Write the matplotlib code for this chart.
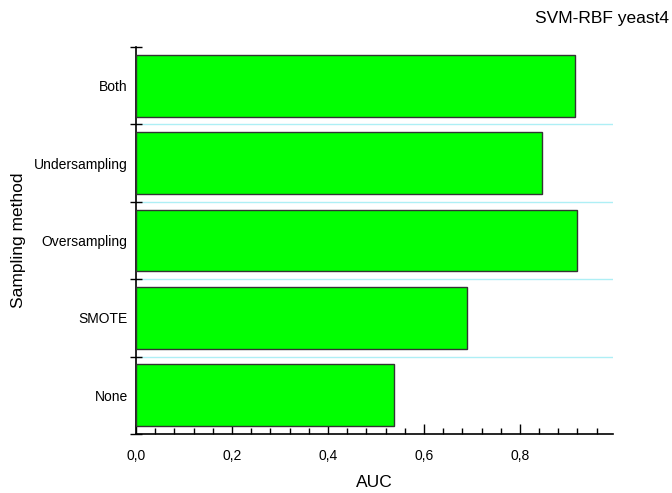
import matplotlib.pyplot as plt
from matplotlib.ticker import MultipleLocator, FixedLocator, FuncFormatter

plt.rcParams['font.family'] = ['Liberation Sans', 'DejaVu Sans']

methods = ["None", "SMOTE", "Oversampling", "Undersampling", "Both"]
auc = [0.5375, 0.690, 0.919, 0.846, 0.915]

fig = plt.figure(figsize=(6.72, 4.93), dpi=100)
ax = fig.add_axes([0.2024, 0.1197, 0.7098, 0.785])

pos = list(range(len(methods)))
ax.barh(pos, auc, height=0.8, color="#00FF00", edgecolor="#333333", linewidth=1.0, zorder=3)

# cyan separators between categories
for b in [p + 0.5 for p in pos[:-1]]:
    ax.axhline(b, color="#AEEFF5", linewidth=1.0, zorder=1)

ax.set_xlim(0, 0.994)
ax.set_ylim(-0.5, 4.5)

ax.xaxis.set_major_locator(MultipleLocator(0.2))
ax.xaxis.set_minor_locator(MultipleLocator(0.04))
ax.xaxis.set_major_formatter(FuncFormatter(lambda v, p: f"{v:.1f}".replace(".", ",")))
ax.tick_params(axis="x", which="major", direction="in", length=7, width=1, labelsize=10, pad=11)
ax.tick_params(axis="x", which="minor", direction="in", length=4, width=1)

ax.yaxis.set_major_locator(FixedLocator([p - 0.5 for p in pos] + [4.5]))
ax.yaxis.set_major_formatter(FuncFormatter(lambda v, p: ""))
ax.yaxis.set_minor_locator(FixedLocator(pos))
ax.set_yticklabels(methods, minor=True)
ax.tick_params(axis="y", which="major", direction="inout", length=8, width=1)
ax.tick_params(axis="y", which="minor", length=0, labelsize=10, pad=6)

for s in ["top", "right"]:
    ax.spines[s].set_visible(False)
ax.spines["left"].set_linewidth(1.2)
ax.spines["bottom"].set_linewidth(1.2)

ax.set_xlabel("AUC", fontsize=12.5)
ax.xaxis.set_label_coords(0.5, -0.107)
ax.set_ylabel("Sampling method", fontsize=12.5)
ax.yaxis.set_label_coords(-0.230, 0.5)
fig.text(0.995, 0.962, "SVM-RBF yeast4", ha="right", va="center", fontsize=12.5)

fig.savefig("out.png", dpi=100)
